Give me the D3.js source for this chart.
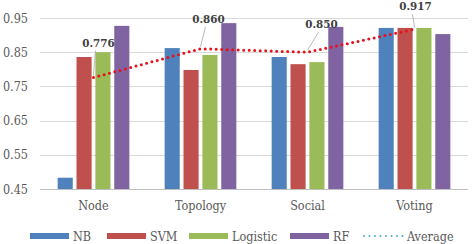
<!DOCTYPE html>
<html>
<head>
<meta charset="utf-8">
<script src="https://cdn.jsdelivr.net/npm/d3@7"></script>
<style>
  body { margin: 0; background: #fff; }
  svg text { font-family: "DejaVu Serif Condensed", "DejaVu Serif", serif; font-stretch: condensed; }
</style>
</head>
<body>
<div id="chart"></div>
<script>
// data
const groups = ["Node", "Topology", "Social", "Voting"];
const series = ["NB", "SVM", "Logistic", "RF"];
const nbVals = [0.483, 0.862, 0.836, 0.921];
const svmVals = [0.836, 0.798, 0.815, 0.921];
const logisticVals = [0.850, 0.842, 0.821, 0.921];
const rfVals = [0.927, 0.935, 0.924, 0.903];
const averageVals = [0.776, 0.860, 0.850, 0.917];
const yTicks = [0.45, 0.55, 0.65, 0.75, 0.85, 0.95];

const colors = { NB: "#4f81bd", SVM: "#c0504d", Logistic: "#9bbb59", RF: "#8064a2" };
const valuesBySeries = { NB: nbVals, SVM: svmVals, Logistic: logisticVals, RF: rfVals };

// label offsets from each average point (dx, dy)
const labelOffsets = [[5, -31], [8, -26], [14, -24], [1, -19]];

const W = 475, H = 244;
const plot = { left: 40, right: 468, top: 18, bottom: 189 };

const svg = d3.select("#chart").append("svg")
    .attr("width", W)
    .attr("height", H)
    .style("display", "block");

const x0 = d3.scaleBand()
    .domain(groups)
    .range([plot.left, plot.right])
    .paddingInner(0.33)
    .paddingOuter(0.165);

const x1 = d3.scaleBand()
    .domain(series)
    .range([0, x0.bandwidth()])
    .paddingInner(0.2);

const y = d3.scaleLinear()
    .domain([0.45, 0.95])
    .range([plot.bottom, plot.top]);

// gridlines
svg.append("g")
    .selectAll("line")
    .data(yTicks)
    .join("line")
    .attr("x1", plot.left)
    .attr("x2", plot.right)
    .attr("y1", d => Math.round(y(d)) + 0.5)
    .attr("y2", d => Math.round(y(d)) + 0.5)
    .attr("stroke", d => d === 0.45 ? "#bfbfbf" : "#d9d9d9")
    .attr("stroke-width", 1);

// y tick labels
svg.append("g")
    .selectAll("text")
    .data(yTicks)
    .join("text")
    .attr("x", 28)
    .attr("y", d => y(d))
    .attr("dy", "0.36em")
    .attr("text-anchor", "end")
    .attr("font-size", 12.5)
    .attr("fill", "#595959")
    .text(d => d3.format(".2f")(d));

// bars
const barGroups = svg.append("g")
    .selectAll("g")
    .data(groups)
    .join("g")
    .attr("transform", d => `translate(${x0(d)},0)`);

barGroups.selectAll("rect")
    .data((g, i) => series.map(s => ({ s, v: valuesBySeries[s][i] })))
    .join("rect")
    .attr("x", d => x1(d.s))
    .attr("width", x1.bandwidth())
    .attr("y", d => y(d.v))
    .attr("height", d => y(0.45) - y(d.v))
    .attr("fill", d => colors[d.s]);

// x labels
svg.append("g")
    .selectAll("text")
    .data(groups)
    .join("text")
    .attr("x", d => x0(d) + x0.bandwidth() / 2)
    .attr("y", 210)
    .attr("text-anchor", "middle")
    .attr("font-size", 12.5)
    .attr("fill", "#595959")
    .text(d => d);

// average line
const pts = groups.map((g, i) => [x0(g) + x0.bandwidth() / 2, y(averageVals[i])]);

svg.append("path")
    .attr("d", d3.line()(pts))
    .attr("fill", "none")
    .attr("stroke", "#e8101a")
    .attr("stroke-width", 3)
    .attr("stroke-linecap", "round")
    .attr("stroke-dasharray", "0,5.5");

// leader lines + labels
const labels = svg.append("g");
pts.forEach((p, i) => {
    const lx = p[0] + labelOffsets[i][0];
    const ly = p[1] + labelOffsets[i][1];
    labels.append("line")
        .attr("x1", lx - 3)
        .attr("y1", ly + 4)
        .attr("x2", p[0])
        .attr("y2", p[1] - 2)
        .attr("stroke", "#a6a6a6")
        .attr("stroke-width", 0.8);
    labels.append("text")
        .attr("x", lx)
        .attr("y", ly)
        .attr("text-anchor", "middle")
        .attr("font-size", 11.5)
        .attr("font-weight", "bold")
        .attr("fill", "#404040")
        .text(d3.format(".3f")(averageVals[i]));
});

// legend
const legendX = [30, 107, 189, 290, 363];
const legend = svg.append("g");
series.forEach((s, i) => {
    legend.append("rect")
        .attr("x", legendX[i])
        .attr("y", 233)
        .attr("width", 39)
        .attr("height", 6)
        .attr("fill", colors[s]);
    legend.append("text")
        .attr("x", legendX[i] + 43)
        .attr("y", 240.5)
        .attr("font-size", 12.5)
        .attr("fill", "#595959")
        .text(s);
});
legend.append("line")
    .attr("x1", 364)
    .attr("x2", 403)
    .attr("y1", 236)
    .attr("y2", 236)
    .attr("stroke", "#4bacc6")
    .attr("stroke-width", 2)
    .attr("stroke-linecap", "round")
    .attr("stroke-dasharray", "0,5.5");
legend.append("text")
    .attr("x", 407)
    .attr("y", 240.5)
    .attr("font-size", 12.5)
    .attr("fill", "#595959")
    .text("Average");
</script>
</body>
</html>
